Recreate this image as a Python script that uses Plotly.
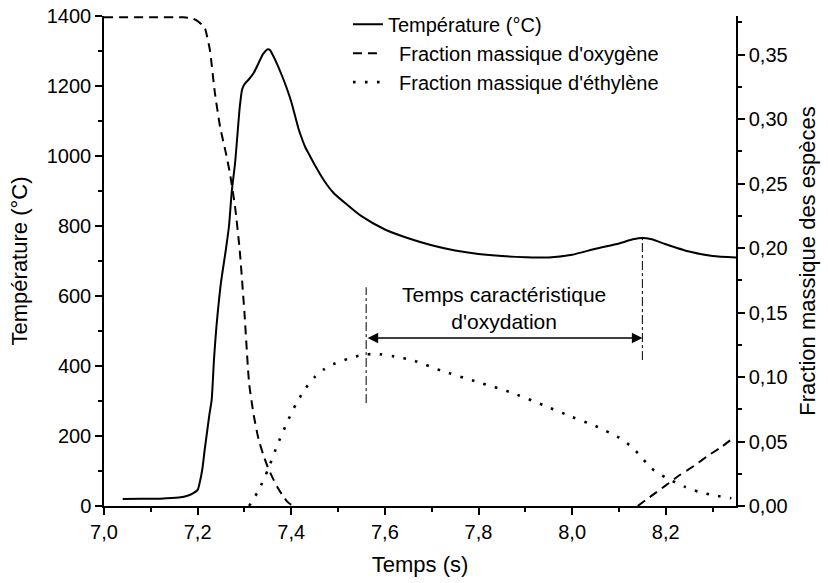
import plotly.graph_objects as go

# ---------------- data ----------------
t_temp = [7.04, 7.08, 7.12, 7.16, 7.18, 7.19, 7.20, 7.205, 7.21, 7.215, 7.22, 7.225, 7.23,
          7.235, 7.24, 7.245, 7.25, 7.26, 7.267, 7.273, 7.28, 7.285, 7.29, 7.295, 7.30,
          7.31, 7.32, 7.33, 7.34, 7.35, 7.355, 7.36, 7.37, 7.38, 7.39, 7.40, 7.41, 7.415,
          7.42, 7.43, 7.44, 7.45, 7.47, 7.49, 7.52, 7.55, 7.60, 7.65, 7.70, 7.75, 7.80,
          7.85, 7.90, 7.95, 8.00, 8.05, 8.10, 8.13, 8.15, 8.17, 8.20, 8.25, 8.30, 8.35]
temperature = [20, 21, 21, 24, 30, 36, 46, 70, 105, 160, 210, 260, 303,
               420, 510, 580, 640, 730, 800, 900, 980, 1060, 1140, 1190, 1205,
               1220, 1238, 1265, 1292, 1305, 1302, 1290, 1262, 1230, 1195, 1155, 1105, 1080,
               1060, 1025, 1000, 975, 930, 895, 860, 828, 790, 765, 745, 730, 720,
               714, 711, 710, 718, 735, 750, 762, 766, 762, 748, 727, 714, 710]

# None marks where the curve lies on the time axis (value zero, hidden by the axis)
t_o2 = [7.00, 7.10, 7.17, 7.19, 7.20, 7.21, 7.216, 7.226, 7.237, 7.248, 7.259, 7.269,
        7.28, 7.29, 7.30, 7.31, 7.32, 7.33, 7.34, 7.35, 7.36, 7.37, 7.38, 7.39, 7.40,
        7.41, 7.80, 8.14, 8.17, 8.20, 8.23, 8.26, 8.29, 8.32, 8.345]
oxygene = [0.379, 0.379, 0.379, 0.378, 0.376, 0.373, 0.370, 0.354, 0.320, 0.294, 0.276, 0.258,
           0.232, 0.198, 0.150, 0.095, 0.070, 0.052, 0.040, 0.030, 0.022, 0.015, 0.009, 0.004, 0.001,
           0.0, None, 0.0, 0.008, 0.016, 0.024, 0.031, 0.039, 0.046, 0.053]

t_c2h4 = [7.31, 7.33, 7.35, 7.37, 7.39, 7.41, 7.43, 7.45, 7.47, 7.49, 7.52, 7.55, 7.58,
          7.62, 7.66, 7.72, 7.80, 7.87, 7.94, 8.00, 8.05, 8.10, 8.13, 8.15, 8.17, 8.20,
          8.24, 8.27, 8.30, 8.34]
ethylene = [0.0, 0.012, 0.028, 0.047, 0.064, 0.079, 0.091, 0.100, 0.106, 0.110, 0.114, 0.117, 0.118,
            0.116, 0.113, 0.105, 0.096, 0.088, 0.078, 0.069, 0.062, 0.053, 0.045, 0.037, 0.029, 0.022,
            0.015, 0.011, 0.0085, 0.006]

# characteristic oxidation time markers (time, temperature-axis extent)
t_marks = [7.56, 8.15]
mark_low = [294, 417]
mark_high = [625, 765]
arrow_level = 480
label_level = 566

names = ["Température (°C)", "\u00a0\u00a0Fraction massique d'oxygène", "\u00a0\u00a0Fraction massique d'éthylène"]

FONT = "Liberation Sans, Arial, sans-serif"

fig = go.Figure()
fig.add_trace(go.Scatter(x=t_temp, y=temperature, mode="lines", name=names[0],
                         line=dict(color="black", width=2, shape="spline", smoothing=0.6)))
fig.add_trace(go.Scatter(x=t_o2, y=oxygene, mode="lines", name=names[1], yaxis="y2",
                         connectgaps=False,
                         line=dict(color="black", width=2, dash="9px,6px", shape="spline", smoothing=0.5)))
fig.add_trace(go.Scatter(x=t_c2h4, y=ethylene, mode="lines", name=names[2], yaxis="y2",
                         line=dict(color="black", width=2.6, dash="2.6px,9.4px", shape="spline", smoothing=0.6)))

for tm, lo, hi in zip(t_marks, mark_low, mark_high):
    fig.add_trace(go.Scatter(x=[tm, tm], y=[lo, hi], mode="lines", showlegend=False,
                             line=dict(color="black", width=1, dash="dashdot"), hoverinfo="skip"))

fig.add_annotation(x=t_marks[1], y=arrow_level, ax=t_marks[0], ay=arrow_level,
                   xref="x", yref="y", axref="x", ayref="y", text="",
                   showarrow=True, arrowhead=2, arrowside="end+start", arrowsize=1.4,
                   arrowwidth=1.5, arrowcolor="black", standoff=0, startstandoff=0)
fig.add_annotation(x=(t_marks[0] + t_marks[1]) / 2, y=label_level, xref="x", yref="y",
                   text="Temps caractéristique<br>d'oxydation", showarrow=False,
                   font=dict(family=FONT, size=21, color="black"), align="center")

axis_common = dict(showgrid=False, zeroline=False, showline=True, linecolor="black", linewidth=1.5,
                   ticks="outside", ticklen=7, tickwidth=1.5, tickcolor="black",
                   tickfont=dict(family=FONT, size=20, color="black"))

fig.update_layout(
    width=828, height=583,
    margin=dict(l=104, r=92, t=16, b=77, autoexpand=False),
    paper_bgcolor="white", plot_bgcolor="white",
    separators=", ",
    font=dict(family=FONT, size=20, color="black"),
    xaxis=dict(range=[7.0, 8.35], dtick=0.2, tick0=7.0, tickformat=".1f",
               minor=dict(dtick=0.1, ticks="outside", ticklen=4, tickwidth=1.5, tickcolor="black"),
               title=dict(text="Temps (s)", font=dict(family=FONT, size=22), standoff=15),
               **axis_common),
    yaxis=dict(range=[0, 1400], dtick=200, tick0=0,
               minor=dict(dtick=100, ticks="outside", ticklen=4, tickwidth=1.5, tickcolor="black"),
               title=dict(text="Température (°C)", font=dict(family=FONT, size=22), standoff=13),
               **axis_common),
    yaxis2=dict(range=[0, 0.38], dtick=0.05, tick0=0, tickformat=".2f", overlaying="y", side="right",
                minor=dict(dtick=0.025, ticks="outside", ticklen=4, tickwidth=1.5, tickcolor="black"),
                title=dict(text="Fraction massique des espèces", font=dict(family=FONT, size=22), standoff=13),
                **axis_common),
    legend=dict(x=0.386, y=0.992, xref="paper", yref="container", xanchor="left", yanchor="top",
                bgcolor="rgba(0,0,0,0)",
                font=dict(family=FONT, size=20, color="black"), tracegroupgap=0),
    showlegend=True,
)

fig.write_html("out.html")
